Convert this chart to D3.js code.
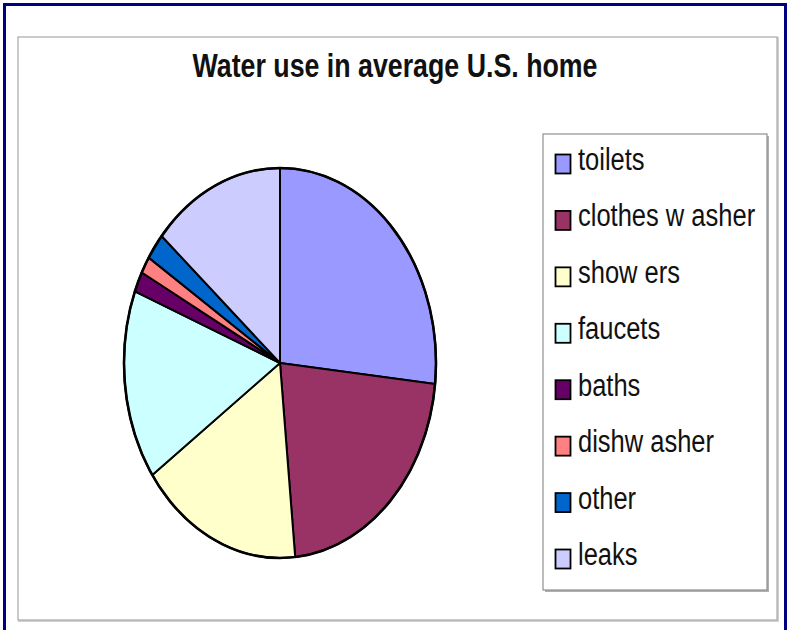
<!DOCTYPE html>
<html>
<head>
<meta charset="utf-8">
<script src="https://cdn.jsdelivr.net/npm/d3@7"></script>
<style>
  body { margin: 0; background: #fff; }
  svg { display: block; font-family: "Liberation Sans", Arial, sans-serif; }
</style>
</head>
<body>
<div id="chart"></div>
<script>
// data (percent of household water use)
const categories = ['toilets', 'clothes w asher', 'show ers', 'faucets', 'baths', 'dishw asher', 'other', 'leaks'];
const values = [26.7, 21.7, 16.8, 15.7, 1.7, 1.4, 2.2, 13.7];
const colors = ['#9999ff', '#993366', '#ffffcc', '#ccffff', '#660066', '#ff8080', '#0066cc', '#ccccff'];
const title = 'Water use in average U.S. home';

const W = 791, H = 630;
const svg = d3.select('#chart').append('svg').attr('width', W).attr('height', H);

// outer navy frame
svg.append('rect').attr('x', 4.5).attr('y', 4.5).attr('width', 781).attr('height', 640)
  .attr('fill', '#fff').attr('stroke', '#000080').attr('stroke-width', 3);

// chart area with a light shadow
svg.append('rect').attr('x', 19).attr('y', 38).attr('width', 759).attr('height', 583)
  .attr('fill', 'none').attr('stroke', '#d0d0d0').attr('stroke-width', 2);
svg.append('rect').attr('x', 18).attr('y', 37).attr('width', 759).attr('height', 583)
  .attr('fill', '#fff').attr('stroke', '#a8a8a8').attr('stroke-width', 1.2);

// title is tall and narrow in the original, so stretch it vertically
svg.append('g')
  .attr('transform', 'translate(395,77) scale(1,1.3)')
  .append('text')
  .attr('text-anchor', 'middle')
  .attr('font-size', 26).attr('font-weight', 'bold')
  .attr('fill', '#111')
  .attr('textLength', 405).attr('lengthAdjust', 'spacingAndGlyphs')
  .text(title);

// the pie is drawn as a circle and squashed into an ellipse
const cx = 280, cy = 363, rx = 156, ry = 195;
const pie = d3.pie().sort(null).value(d => d);
const arc = d3.arc().innerRadius(0).outerRadius(ry);

const g = svg.append('g')
  .attr('transform', 'translate(' + cx + ',' + cy + ') scale(' + (rx / ry) + ',1)');

g.selectAll('path.slice')
  .data(pie(values))
  .enter()
  .append('path')
  .attr('class', 'slice')
  .attr('d', arc)
  .attr('fill', (d, i) => colors[i])
  .attr('stroke', '#000')
  .attr('stroke-width', 2)
  .attr('stroke-linejoin', 'round')
  .attr('vector-effect', 'non-scaling-stroke');

g.append('circle').attr('r', ry)
  .attr('fill', 'none').attr('stroke', '#000').attr('stroke-width', 2.6)
  .attr('vector-effect', 'non-scaling-stroke');

// legend box
const lx = 543, ly = 134, lw = 224, lh = 456;
svg.append('rect').attr('x', lx + 2).attr('y', ly + 2).attr('width', lw).attr('height', lh)
  .attr('fill', '#b0b0b0');
svg.append('rect').attr('x', lx).attr('y', ly).attr('width', lw).attr('height', lh)
  .attr('fill', '#fff').attr('stroke', '#909090').attr('stroke-width', 1.2);

const rowY = d3.scalePoint().domain(categories).range([161, 556]);

const item = svg.selectAll('g.item')
  .data(categories)
  .enter()
  .append('g')
  .attr('class', 'item')
  .attr('transform', d => 'translate(0,' + rowY(d) + ')');

item.append('rect')
  .attr('x', 555.5).attr('y', -6.5).attr('width', 15).attr('height', 19)
  .attr('fill', (d, i) => colors[i])
  .attr('stroke', '#000').attr('stroke-width', 1.8);

item.append('g')
  .attr('transform', 'translate(578,9) scale(1,1.25)')
  .append('text')
  .attr('font-size', 25.5)
  .attr('fill', '#111')
  .text(d => d);
</script>
</body>
</html>
